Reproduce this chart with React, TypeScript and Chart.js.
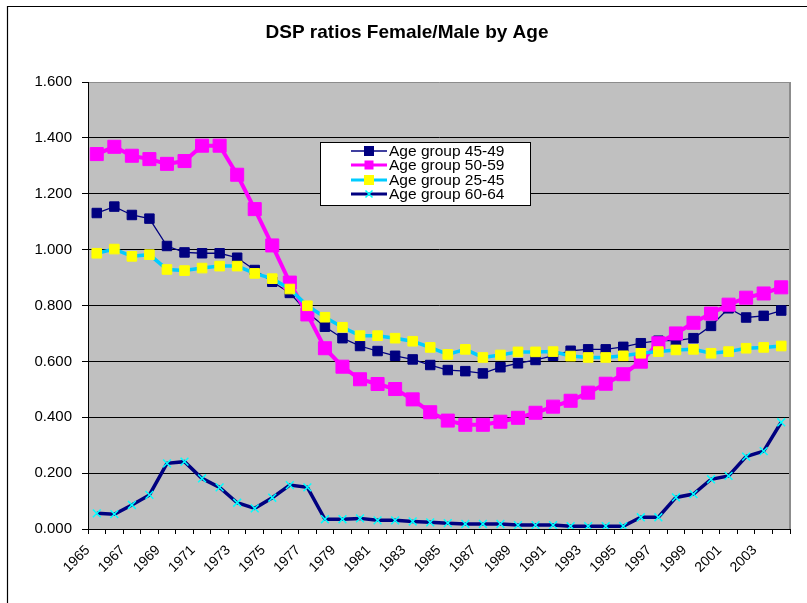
import React, { useEffect, useRef } from 'react';
import { Chart, registerables } from 'chart.js';

Chart.register(...registerables);

const chartTitle = 'DSP ratios Female/Male by Age';

const years = [
  '1965', '1966', '1967', '1968', '1969', '1970', '1971', '1972', '1973', '1974',
  '1975', '1976', '1977', '1978', '1979', '1980', '1981', '1982', '1983', '1984',
  '1985', '1986', '1987', '1988', '1989', '1990', '1991', '1992', '1993', '1994',
  '1995', '1996', '1997', '1998', '1999', '2000', '2001', '2002', '2003', '2004',
];

const age4549 = [
  1.131, 1.154, 1.124, 1.111, 1.013, 0.990, 0.987, 0.987, 0.971, 0.927,
  0.885, 0.845, 0.775, 0.724, 0.683, 0.655, 0.637, 0.620, 0.607, 0.587,
  0.569, 0.565, 0.557, 0.579, 0.593, 0.605, 0.620, 0.638, 0.643, 0.643,
  0.652, 0.665, 0.674, 0.674, 0.683, 0.727, 0.790, 0.757, 0.763, 0.782,
];

const age5059 = [
  1.342, 1.368, 1.336, 1.324, 1.307, 1.317, 1.372, 1.372, 1.268, 1.145,
  1.015, 0.882, 0.768, 0.647, 0.581, 0.536, 0.519, 0.501, 0.464, 0.418,
  0.388, 0.373, 0.373, 0.384, 0.398, 0.416, 0.438, 0.459, 0.488, 0.520,
  0.554, 0.599, 0.665, 0.700, 0.738, 0.771, 0.803, 0.828, 0.843, 0.865,
];

const age2545 = [
  0.987, 1.002, 0.976, 0.982, 0.929, 0.925, 0.934, 0.941, 0.941, 0.915,
  0.896, 0.859, 0.799, 0.758, 0.722, 0.692, 0.692, 0.683, 0.672, 0.650,
  0.625, 0.643, 0.614, 0.623, 0.634, 0.634, 0.635, 0.619, 0.614, 0.614,
  0.620, 0.629, 0.635, 0.641, 0.643, 0.629, 0.635, 0.647, 0.650, 0.655,
];

const age6064 = [
  0.056, 0.053, 0.086, 0.122, 0.235, 0.241, 0.181, 0.149, 0.094, 0.074,
  0.112, 0.157, 0.149, 0.035, 0.035, 0.038, 0.031, 0.031, 0.027, 0.024,
  0.021, 0.018, 0.018, 0.018, 0.014, 0.014, 0.014, 0.010, 0.010, 0.010,
  0.010, 0.042, 0.042, 0.113, 0.125, 0.178, 0.190, 0.259, 0.279, 0.382,
];

const seriesLabels = ['Age group 45-49', 'Age group 50-59', 'Age group 25-45', 'Age group 60-64'];

const FONT = '"Liberation Sans", Arial, sans-serif';

const backgroundPlugin = {
  id: 'excelBackground',
  beforeDraw(chart: any) {
    const { ctx, chartArea } = chart;
    ctx.save();
    ctx.fillStyle = '#ffffff';
    ctx.fillRect(0, 0, chart.width, chart.height);
    ctx.fillStyle = '#c0c0c0';
    ctx.fillRect(chartArea.left, chartArea.top, chartArea.right - chartArea.left, chartArea.bottom - chartArea.top);
    ctx.restore();
  },
  beforeDatasetsDraw(chart: any) {
    const { ctx, chartArea } = chart;
    ctx.save();
    ctx.strokeStyle = '#8c8c8c';
    ctx.lineWidth = 2;
    ctx.beginPath();
    ctx.moveTo(chartArea.right, chartArea.top);
    ctx.lineTo(chartArea.right, chartArea.bottom);
    ctx.stroke();
    ctx.restore();
  },
  afterDraw(chart: any) {
    const { ctx } = chart;
    ctx.save();
    ctx.strokeStyle = '#000000';
    ctx.lineWidth = 1.2;
    ctx.beginPath();
    ctx.moveTo(7.5, chart.height + 10);
    ctx.lineTo(7.5, 6.5);
    ctx.lineTo(chart.width + 10, 6.5);
    ctx.stroke();
    ctx.restore();
  },
};

const legendPlugin = {
  id: 'boxLegend',
  afterDraw(chart: any) {
    const { ctx } = chart;
    const bx = 320.5;
    const by = 142.5;
    const bw = 210;
    const bh = 63;
    ctx.save();
    ctx.fillStyle = '#ffffff';
    ctx.fillRect(bx, by, bw, bh);
    ctx.strokeStyle = '#000000';
    ctx.lineWidth = 1;
    ctx.strokeRect(bx, by, bw, bh);
    const rows = [151, 165, 180, 194];
    chart.data.datasets.forEach((ds: any, i: number) => {
      const y = rows[i];
      const x1 = 351;
      const x2 = 387;
      const mx = 369;
      ctx.strokeStyle = ds.borderColor;
      ctx.lineWidth = Math.min(ds.borderWidth, 3);
      ctx.beginPath();
      ctx.moveTo(x1, y);
      ctx.lineTo(x2, y);
      ctx.stroke();
      if (ds.pointStyle === 'rect') {
        const s = i === 1 ? 9 : 10;
        ctx.fillStyle = ds.pointBackgroundColor;
        ctx.fillRect(mx - s / 2, y - s / 2, s, s);
      } else {
        const r = 3.5;
        ctx.strokeStyle = ds.pointBorderColor;
        ctx.lineWidth = 1.5;
        ctx.beginPath();
        ctx.moveTo(mx - r, y - r);
        ctx.lineTo(mx + r, y + r);
        ctx.moveTo(mx - r, y + r);
        ctx.lineTo(mx + r, y - r);
        ctx.stroke();
      }
      ctx.fillStyle = '#000000';
      ctx.font = '15.5px ' + FONT;
      ctx.textAlign = 'left';
      ctx.textBaseline = 'middle';
      ctx.fillText(ds.label, 389, y + 0.5);
    });
    ctx.restore();
  },
};

export default function App() {
  const canvasRef = useRef<HTMLCanvasElement | null>(null);

  useEffect(() => {
    const canvas = canvasRef.current;
    if (!canvas) return;
    const chart = new Chart(canvas, {
      type: 'line',
      data: {
        labels: years,
        datasets: [
          {
            label: seriesLabels[0],
            data: age4549,
            borderColor: '#000080',
            borderWidth: 1.3,
            pointStyle: 'rect',
            pointRadius: 6.7,
            pointBackgroundColor: '#000080',
            pointBorderColor: '#000080',
            pointBorderWidth: 1,
            tension: 0,
            order: 4,
          },
          {
            label: seriesLabels[1],
            data: age5059,
            borderColor: '#ff00ff',
            borderWidth: 4,
            pointStyle: 'rect',
            pointRadius: 9.2,
            pointBackgroundColor: '#ff00ff',
            pointBorderColor: '#ff00ff',
            pointBorderWidth: 1,
            tension: 0,
            order: 3,
          },
          {
            label: seriesLabels[2],
            data: age2545,
            borderColor: '#00ccff',
            borderWidth: 3.5,
            pointStyle: 'rect',
            pointRadius: 6.8,
            pointBackgroundColor: '#ffff00',
            pointBorderColor: '#ffff00',
            pointBorderWidth: 1,
            tension: 0,
            order: 2,
          },
          {
            label: seriesLabels[3],
            data: age6064,
            borderColor: '#000080',
            borderWidth: 3.5,
            pointStyle: 'crossRot',
            pointRadius: 5.5,
            pointBackgroundColor: '#00ffff',
            pointBorderColor: '#00ffff',
            pointBorderWidth: 1.5,
            tension: 0,
            order: 1,
          },
        ],
      },
      options: {
        responsive: false,
        animation: false,
        events: [],
        layout: { padding: { top: 0, right: 17, bottom: 0, left: 24 } },
        plugins: {
          legend: { display: false },
          tooltip: { enabled: false },
          title: {
            display: true,
            text: chartTitle,
            color: '#000000',
            font: { family: FONT, size: 19, weight: 'bold' },
            padding: { top: 21, bottom: 38.2 },
          },
        },
        scales: {
          x: {
            type: 'category',
            offset: true,
            afterFit(scale: any) {
              scale.height = 74;
            },
            grid: {
              offset: true,
              drawOnChartArea: false,
              drawTicks: true,
              tickLength: 5,
              color: '#000000',
            },
            border: { display: true, color: '#000000', width: 1 },
            ticks: {
              autoSkip: false,
              maxRotation: 45,
              minRotation: 45,
              padding: 8,
              labelOffset: -9,
              color: '#000000',
              font: { family: FONT, size: 14 },
              callback: (_v: any, index: number) => (index % 2 === 0 ? years[index] : ''),
            },
          },
          y: {
            min: 0,
            max: 1.6,
            afterFit(scale: any) {
              scale.width = 64;
            },
            grid: {
              color: (ctx: any) => (ctx.tick && Math.abs(ctx.tick.value - 1.6) < 1e-6 ? '#8c8c8c' : '#000000'),
              tickColor: '#000000',
              lineWidth: 1,
              tickLength: 6,
            },
            border: { display: true, color: '#000000', width: 1 },
            ticks: {
              stepSize: 0.2,
              padding: 10,
              color: '#000000',
              font: { family: FONT, size: 15 },
              callback: (v: any) => Number(v).toFixed(3),
            },
          },
        },
      },
      plugins: [backgroundPlugin, legendPlugin],
    });
    return () => {
      chart.destroy();
    };
  }, []);

  return (
    <div style={{ position: 'absolute', left: 0, top: 0, width: 807, height: 603, background: '#ffffff' }}>
      <canvas ref={canvasRef} width={807} height={603} style={{ display: 'block' }} />
    </div>
  );
}
